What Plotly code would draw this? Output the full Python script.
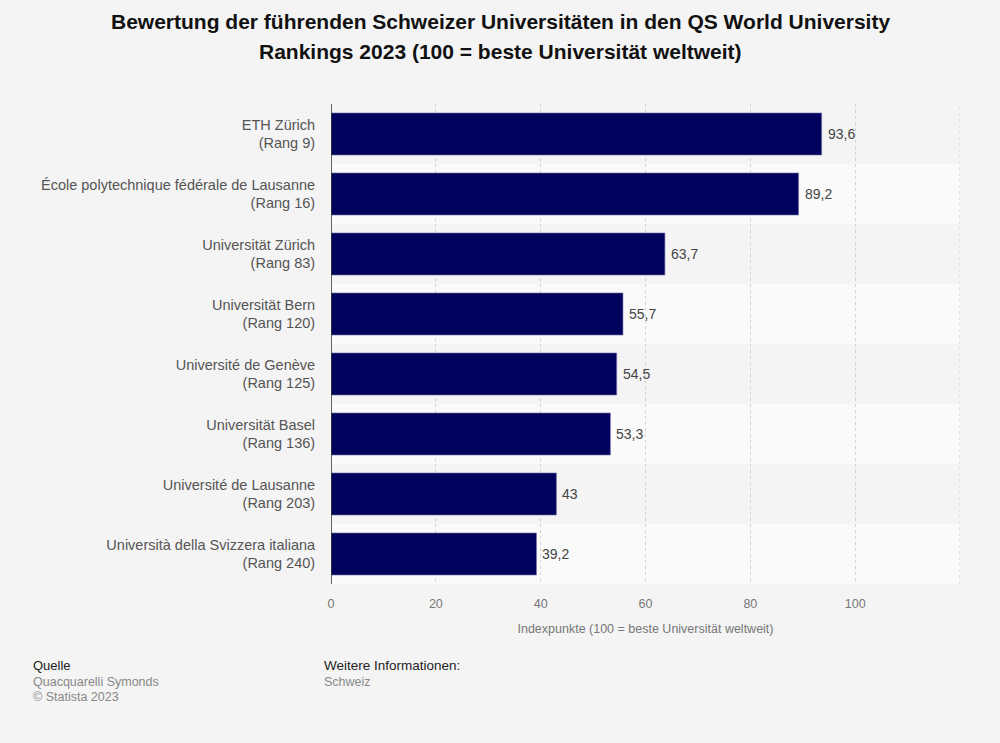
import plotly.graph_objects as go

# Data
universities = [
    "ETH Zürich<br>(Rang 9)",
    "École polytechnique fédérale de Lausanne<br>(Rang 16)",
    "Universität Zürich<br>(Rang 83)",
    "Universität Bern<br>(Rang 120)",
    "Université de Genève<br>(Rang 125)",
    "Universität Basel<br>(Rang 136)",
    "Université de Lausanne<br>(Rang 203)",
    "Università della Svizzera italiana<br>(Rang 240)",
]
scores = [93.6, 89.2, 63.7, 55.7, 54.5, 53.3, 43, 39.2]
x_ticks = [0, 20, 40, 60, 80, 100]

FONT = "Liberation Sans, Arial, sans-serif"
BAR_COLOR = "#01015e"

L, R, T, B = 331, 40, 104, 159
W, H = 1000, 743
pw, ph = W - L - R, H - T - B

labels = [f"{v:g}".replace(".", ",") for v in scores]

fig = go.Figure()
fig.add_trace(go.Bar(
    x=scores,
    y=universities,
    orientation="h",
    marker=dict(color=BAR_COLOR, line=dict(color="#7070aa", width=0.6)),
    width=0.7,
    hoverinfo="skip",
))

# value labels next to the bars
annotations = [
    dict(
        x=v, y=u, xref="x", yref="y", text=t, showarrow=False,
        xanchor="left", yanchor="middle", xshift=4,
        font=dict(family=FONT, size=14, color="#444444"),
    )
    for v, u, t in zip(scores, universities, labels)
]

# alternating row bands
shapes = []
for i in range(len(universities)):
    if i % 2 == 1:
        shapes.append(dict(
            type="rect", xref="paper", yref="y",
            x0=0, x1=1, y0=i - 0.5, y1=i + 0.5,
            fillcolor="#fafafa", line=dict(width=0), layer="below",
        ))
# dark baseline at zero
shapes.append(dict(
    type="line", xref="x", yref="paper",
    x0=0, x1=0, y0=0, y1=1,
    line=dict(color="#333333", width=1.5), layer="above",
))
# gridline at the right edge
shapes.append(dict(
    type="line", xref="x", yref="paper", x0=120, x1=120, y0=0, y1=1,
    line=dict(color="#d2d2d2", width=1, dash="dot"), layer="below",
))

# title lines and footer (pixel positions on the page)
title_lines = [
    (500, 22, "<b>Bewertung der führenden Schweizer Universitäten in den QS World University</b>"),
    (500, 52, "<b>Rankings 2023 (100 = beste Universität weltweit)</b>"),
]
for tx, ty, text in title_lines:
    annotations.append(dict(
        x=(tx - L) / pw, y=(H - ty - B) / ph,
        xref="paper", yref="paper", text=text, showarrow=False,
        xanchor="center", yanchor="middle",
        font=dict(family=FONT, size=21, color="#111111"),
    ))

footer = [
    (31, 665, "Quelle", "#222222", 13),
    (31, 682, "Quacquarelli Symonds", "#888888", 12.5),
    (31, 697, "© Statista 2023", "#888888", 12.5),
    (322, 665, "Weitere Informationen:", "#222222", 13.5),
    (322, 682, "Schweiz", "#888888", 12.5),
]
for fx, fy, text, color, size in footer:
    annotations.append(dict(
        x=(fx - L) / pw, y=(H - fy - B) / ph,
        xref="paper", yref="paper", text=text, showarrow=False,
        xanchor="left", yanchor="middle",
        font=dict(family=FONT, size=size, color=color),
    ))

fig.update_layout(
    width=W,
    height=H,
    paper_bgcolor="#f4f4f4",
    plot_bgcolor="#f4f4f4",
    margin=dict(l=L, r=R, t=T, b=B),
    font=dict(family=FONT, color="#555555"),
    xaxis=dict(
        range=[0, 120],
        tickvals=x_ticks,
        tickfont=dict(family=FONT, size=12.5, color="#777777"),
        showgrid=True,
        gridcolor="#d2d2d2",
        griddash="dot",
        gridwidth=1,
        zeroline=False,
        showline=False,
        ticks="outside",
        ticklen=8,
        tickcolor="rgba(0,0,0,0)",
        title=dict(
            text="Indexpunkte (100 = beste Universität weltweit)",
            font=dict(family=FONT, size=12.5, color="#777777"),
            standoff=14,
        ),
    ),
    yaxis=dict(
        autorange="reversed",
        tickfont=dict(family=FONT, size=14.5, color="#555555"),
        ticks="outside",
        ticklen=12,
        tickcolor="rgba(0,0,0,0)",
        showgrid=False,
        zeroline=False,
    ),
    shapes=shapes,
    annotations=annotations,
    showlegend=False,
)

# drop the default page margin so the figure fills the window
fig.write_html(
    "out.html",
    config={"displayModeBar": False},
    post_script="document.body.style.margin='0';",
)
